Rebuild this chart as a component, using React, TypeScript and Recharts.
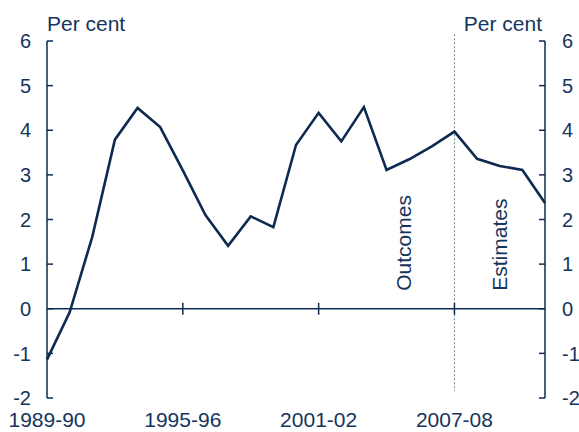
import React from "react";
import { LineChart, Line, XAxis, YAxis, ReferenceLine, ReferenceDot } from "recharts";

const years = [
  "1989-90", "1990-91", "1991-92", "1992-93", "1993-94", "1994-95", "1995-96",
  "1996-97", "1997-98", "1998-99", "1999-00", "2000-01", "2001-02", "2002-03",
  "2003-04", "2004-05", "2005-06", "2006-07", "2007-08", "2008-09", "2009-10",
  "2010-11", "2011-12",
];
const growth = [
  -1.14, -0.08, 1.61, 3.79, 4.5, 4.07, 3.1, 2.1, 1.41, 2.07, 1.83, 3.67, 4.39,
  3.75, 4.52, 3.11, 3.35, 3.64, 3.97, 3.36, 3.2, 3.11, 2.37,
];
const xTicks = ["1989-90", "1995-96", "2001-02", "2007-08"];
const zeroTicks = ["1995-96", "2001-02", "2007-08"];
const yTicks = [-2, -1, 0, 1, 2, 3, 4, 5, 6];
const splitYear = "2007-08";

const data = years.map((year, i) => ({ year, value: growth[i] }));

const navy = "#0d2b50";
const textColor = "#15355c";
const font = "'Liberation Sans', Arial, sans-serif";

const LeftTick = (props: any) => {
  const { x, y, payload } = props;
  return (
    <g>
      <line x1={x + 16} y1={y} x2={x + 22} y2={y} stroke={navy} strokeWidth={1.5} />
      <text x={x} y={y} dy="0.36em" textAnchor="end" fill={textColor} fontSize={20} fontFamily={font}>
        {payload.value}
      </text>
    </g>
  );
};

const RightTick = (props: any) => {
  const { x, y, payload } = props;
  return (
    <g>
      <line x1={x - 16} y1={y} x2={x - 22} y2={y} stroke={navy} strokeWidth={1.5} />
      <text x={x + 1} y={y} dy="0.36em" textAnchor="start" fill={textColor} fontSize={20} fontFamily={font}>
        {payload.value}
      </text>
    </g>
  );
};

const BottomTick = (props: any) => {
  const { x, y, payload } = props;
  return (
    <text x={x} y={y + 29} textAnchor="middle" fill={textColor} fontSize={21} fontFamily={font}>
      {payload.value}
    </text>
  );
};

const ZeroTick = (props: any) => {
  const { cx, cy } = props;
  return <line x1={cx} y1={cy - 6} x2={cx} y2={cy + 6} stroke={navy} strokeWidth={1.5} />;
};

const PeriodLabels = (props: any) => {
  const { cx, cy } = props;
  return (
    <g fill={textColor} fontSize={21} fontFamily={font}>
      <text transform={`translate(${cx - 43},${cy - 18}) rotate(-90)`}>Outcomes</text>
      <text transform={`translate(${cx + 53},${cy - 18}) rotate(-90)`}>Estimates</text>
    </g>
  );
};

const App = () => {
  return (
    <div style={{ position: "absolute", left: 0, top: 0, width: 579, height: 432, background: "#fff" }}>
      <svg width={579} height={432} style={{ position: "absolute", left: 0, top: 0, pointerEvents: "none" }}>
        <text x={47} y={31} fill={textColor} fontSize={21} fontFamily={font}>Per cent</text>
        <text x={542} y={31} textAnchor="end" fill={textColor} fontSize={21} fontFamily={font}>Per cent</text>
      </svg>
      <LineChart width={579} height={432} data={data} margin={{ top: 41, right: 0, bottom: 0, left: 0 }}>
        <XAxis
          dataKey="year"
          ticks={xTicks}
          interval={0}
          axisLine={false}
          tickLine={false}
          tickSize={0}
          tickMargin={0}
          height={34}
          tick={<BottomTick />}
        />
        <YAxis
          yAxisId="left"
          orientation="left"
          domain={[-2, 6]}
          ticks={yTicks}
          width={47}
          tickSize={0}
          tickMargin={16}
          tickLine={false}
          axisLine={{ stroke: navy, strokeWidth: 1.5 }}
          tick={<LeftTick />}
        />
        <YAxis
          yAxisId="right"
          orientation="right"
          domain={[-2, 6]}
          ticks={yTicks}
          width={34}
          tickSize={0}
          tickMargin={16}
          tickLine={false}
          axisLine={{ stroke: navy, strokeWidth: 1.5 }}
          tick={<RightTick />}
        />
        <ReferenceLine yAxisId="left" y={0} stroke={navy} strokeWidth={1.5} />
        <ReferenceLine
          yAxisId="left"
          segment={[
            { x: splitYear, y: 6.15 },
            { x: splitYear, y: -1.85 },
          ]}
          ifOverflow="visible"
          stroke="#6b7f96"
          strokeWidth={1}
          strokeDasharray="2 2"
        />
        {zeroTicks.map((yr) => (
          <ReferenceDot key={yr} yAxisId="left" x={yr} y={0} ifOverflow="visible" shape={<ZeroTick />} />
        ))}
        <ReferenceDot yAxisId="left" x={splitYear} y={0} ifOverflow="visible" shape={<PeriodLabels />} />
        <Line
          yAxisId="right"
          type="linear"
          dataKey="value"
          stroke="none"
          dot={false}
          activeDot={false}
          isAnimationActive={false}
        />
        <Line
          yAxisId="left"
          type="linear"
          dataKey="value"
          stroke={navy}
          strokeWidth={2.6}
          dot={false}
          isAnimationActive={false}
        />
      </LineChart>
    </div>
  );
};

export default App;
